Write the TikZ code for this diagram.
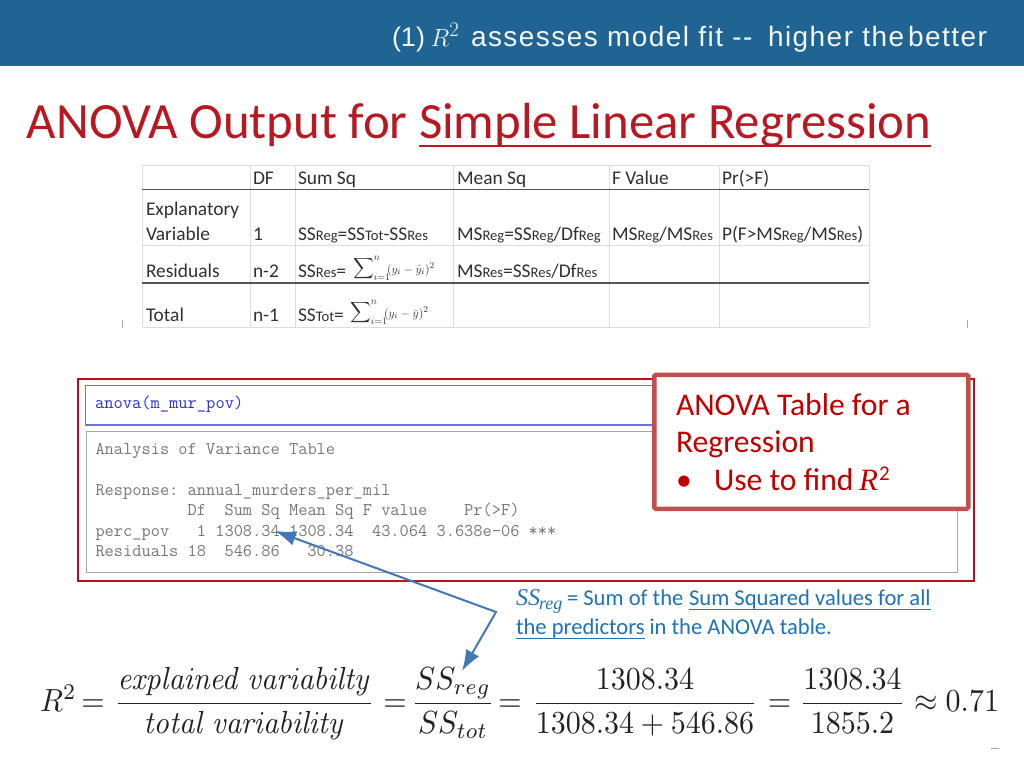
\documentclass[tikz,border=0pt]{standalone}
\usepackage{fontspec}
\usepackage{amsmath}
\usepackage{graphicx}
\setmainfont{Carlito}
\newfontfamily\hdfont[LetterSpace=5.2]{Liberation Sans}
\newfontfamily\hdplain{Liberation Sans}
\newfontfamily\serifit{Liberation Serif}
\DeclareMathAlphabet{\cmtext}{OT1}{cmr}{m}{it}
\usetikzlibrary{arrows.meta}
\definecolor{band}{HTML}{1F6493}
\definecolor{hdtext}{HTML}{F2F6FA}
\definecolor{ttlred}{HTML}{B81822}
\definecolor{redbox}{HTML}{C00D1E}
\definecolor{callout}{HTML}{C0504D}
\definecolor{calltext}{HTML}{C00000}
\definecolor{noteblue}{HTML}{1F71B8}
\definecolor{arrowblue}{HTML}{4377B5}
\definecolor{cmdblue}{HTML}{3030CC}
\definecolor{frameblue}{HTML}{6F6FE8}
\definecolor{outgray}{HTML}{777777}
\definecolor{framegray}{HTML}{A6A6A6}
\definecolor{gridlight}{HTML}{DCDCDC}
\definecolor{griddark}{HTML}{555555}
\definecolor{tabtext}{HTML}{303030}
\definecolor{eqtext}{HTML}{222222}
\newcommand{\fsz}[1]{\fontsize{#1}{#1}\selectfont}
\newcommand{\sbs}[1]{{\fsz{14.6}#1}}
\frenchspacing
\tikzset{
  txt/.style={anchor=base west,inner sep=0pt,outer sep=0pt},
  tabtxt/.style={txt,text=tabtext,font=\fsz{19.4}},
  routput/.style={txt,text=outgray,font=\fsz{17.9}\ttfamily},
  hdtxt/.style={txt,text=hdtext,font=\fsz{28}\hdfont},
  gridl/.style={draw=gridlight,line width=1pt},
  gridd/.style={draw=griddark,line width=1.2pt},
  eqtxt/.style={anchor=base,inner sep=0pt,outer sep=0pt,text=eqtext,xscale=3,yscale=3.2},
  notetxt/.style={txt,text=noteblue,font=\fsz{22.6}},
  calltxt/.style={txt,text=calltext,font=\fsz{31.6}},
  sumtxt/.style={txt,text=tabtext,font=\fsz{14}},
}
\begin{document}
\begin{tikzpicture}[x=1pt,y=-1pt]
\useasboundingbox (0,0) rectangle (1024,769);
\fill[white] (0,0) rectangle (1024,769);
% header band
\fill[band] (0,0) rectangle (1024,66);
\node[txt,text=hdtext,font=\fsz{27}\hdplain] (h1) at (392,46) {(1)};
\node[txt,text=hdtext,font=\fsz{31}] (h2) at (430.5,46) {$R^2$};
\node[hdtxt] (h3) at (471,46) {assesses model fit --};
\node[hdtxt] (h4) at (768,46) {higher the};
\node[hdtxt] (h5) at (908,46) {better};
% title
\node[txt,text=ttlred,font=\fsz{50.8}] (t1) at (27,138) {ANOVA Output for};
\node[txt,text=ttlred,font=\fsz{50.8}] (t2) at (419,138) {Simple Linear Regression};
\draw[ttlred,line width=2.6pt] ([yshift=-8pt]t2.base west) -- ([yshift=-8pt]t2.base east);
% table grid
\foreach \x in {142,250,295,453,609,719,869}
  \draw[gridl] (\x,165) -- (\x,327);
\draw[gridl] (142,165) -- (869,165);
\draw[gridl] (142,245.5) -- (869,245.5);
\draw[gridl] (142,327) -- (869,327);
\draw[gridd] (142,189.5) -- (869,189.5);
\draw[gridd] (142,283) -- (869,283);
\draw[framegray,line width=.8pt] (122,320) -- (122,328);
\draw[framegray,line width=.8pt] (967,320) -- (967,328);
% table text
\node[tabtxt] (c1) at (253,184.5) {DF};
\node[tabtxt] (c2) at (298,184.5) {Sum Sq};
\node[tabtxt] (c3) at (457,184.5) {Mean Sq};
\node[tabtxt] (c4) at (612,184.5) {F Value};
\node[tabtxt] (c5) at (722,184.5) {Pr(>F)};
\node[tabtxt] (r1a) at (146,215.5) {Explanatory};
\node[tabtxt] (r1b) at (146,240.5) {Variable};
\node[tabtxt] (r1c) at (253,240.5) {1};
\node[tabtxt] (r1d) at (298,240.5) {SS\sbs{Reg}=SS\sbs{Tot}-SS\sbs{Res}};
\node[tabtxt] (r1e) at (457,240.5) {MS\sbs{Reg}=SS\sbs{Reg}/Df\sbs{Reg}};
\node[tabtxt] (r1f) at (612,240.5) {MS\sbs{Reg}/MS\sbs{Res}};
\node[tabtxt] (r1g) at (722,240.5) {P(F>MS\sbs{Reg}/MS\sbs{Res})};
\node[tabtxt] (r2a) at (146,277.5) {Residuals};
\node[tabtxt] (r2b) at (253,277.5) {n-2};
\node[tabtxt] (r2c) at (298,277.5) {SS\sbs{Res}=};
\node[sumtxt] (r2d) at (353,272) {$\displaystyle\sum\nolimits_{i=1}^{n}$};
\node[txt,text=tabtext,font=\fsz{12.5}] (r2f) at (387,273) {$(y_i-\hat y_i)^2$};
\node[tabtxt] (r2e) at (457,277.5) {MS\sbs{Res}=SS\sbs{Res}/Df\sbs{Res}};
\node[tabtxt] (r3a) at (146,321.5) {Total};
\node[tabtxt] (r3b) at (253,321.5) {n-1};
\node[tabtxt] (r3c) at (298,321.5) {SS\sbs{Tot}=};
\node[sumtxt] (r3d) at (350,316) {$\displaystyle\sum\nolimits_{i=1}^{n}$};
\node[txt,text=tabtext,font=\fsz{12.5}] (r3f) at (384,317) {$(y_i-\bar y)^2$};
% R output
\draw[redbox,line width=2pt] (78,378.5) rectangle (973.5,580.5);
\draw[frameblue,line width=1.6pt] (85.5,385.5) rectangle (960,425);
\draw[framegray,line width=1pt] (86,431) rectangle (957,572);
\node[txt,text=cmdblue,font=\fsz{18}\ttfamily] (cmd) at (95,408.5) {anova(m\_mur\_pov)};
\node[routput] (o1) at (95.5,454.5) {Analysis of Variance Table};
\node[routput] (o2) at (95.5,495.5) {Response: annual\_murders\_per\_mil};
\node[routput] (o3) at (95.5,515.5) {\phantom{perc\_pov\ }\ Df\ \ Sum Sq Mean Sq F value\ \ \ \ Pr(>F)};
\node[routput] (o4) at (95.5,536) {perc\_pov\ \ \ 1 1308.34 1308.34\ \ 43.064 3.638e-06 ***};
\node[routput] (o5) at (95.5,556) {Residuals 18\ \ 546.86\ \ \ 30.38};
% callout
\node[draw=callout,line width=4.5pt,fill=white,rounded corners=1.5pt,minimum width=314pt,minimum height=134pt,inner sep=0pt,anchor=north west] (cb) at (652,372.5) {};
\node[calltxt] (k1) at (676,415) {ANOVA Table for a};
\node[calltxt] (k2) at (676,452.5) {Regression};
\node[calltxt] (k3) at (676,490) {•};
\node[calltxt] (k4) at (714,490) {Use to find};
\node[txt,text=calltext,font=\fsz{31}\serifit\itshape] (k5) at (859,490) {R};
\node[txt,text=calltext,font=\fsz{21}] (k6) at (879,480) {2};
% blue note
\node[txt,text=noteblue,font=\fsz{24}\serifit\itshape] (n0) at (516,605) {SS};
\node[txt,text=noteblue,font=\fsz{18}\serifit\itshape] (n0b) at (539,609) {reg};
\node[notetxt] (n1) at (567,605) {= Sum of the};
\node[notetxt] (n2) at (689,605) {Sum Squared values for all};
\node[notetxt] (n3) at (516,634) {the predictors};
\node[notetxt] (n4) at (649.5,634) {in the ANOVA table.};
\draw[noteblue,line width=.9pt] ([yshift=-4pt]n2.base west) -- ([yshift=-4pt]n2.base east);
\draw[noteblue,line width=.9pt] ([yshift=-4pt]n3.base west) -- ([yshift=-4pt]n3.base east);
% equation
\node[eqtxt,anchor=base west] (e0) at (40,711.5) {$R^2$};
\node[eqtxt] (e00) at (93,711.5) {$=$};
\node[eqtxt] (e1) at (244.5,711.5) {$\dfrac{\cmtext{explained\ variabilty}}{\cmtext{total\ variability}}$};
\node[eqtxt] (e2) at (395,711.5) {$=$};
\node[eqtxt] (e3) at (453,711.5) {$\dfrac{SS_{reg}}{SS_{tot}}$};
\node[eqtxt] (e4) at (510,711.5) {$=$};
\node[eqtxt] (e5) at (645,711.5) {$\dfrac{1308.34}{1308.34+546.86}$};
\node[eqtxt] (e6) at (779.5,711.5) {$=$};
\node[eqtxt] (e7) at (852.5,711.5) {$\dfrac{1308.34}{1855.2}$};
\node[eqtxt,anchor=base west] (e8) at (914,711.5) {$\approx 0.71$};
% connector
\coordinate (ta) at (275,531);
\coordinate (bend) at (496,612);
\coordinate (tb) at (462,671);
\draw[arrowblue,line width=2pt,{Latex[length=21pt,width=15pt]}-{Latex[length=21pt,width=15pt]}] (ta) -- (bend) -- (tb);
% small remnant at the edge of the pasted image
\draw[framegray,line width=1pt] (991,748.5) -- (999,748.5);
\end{tikzpicture}
\end{document}
